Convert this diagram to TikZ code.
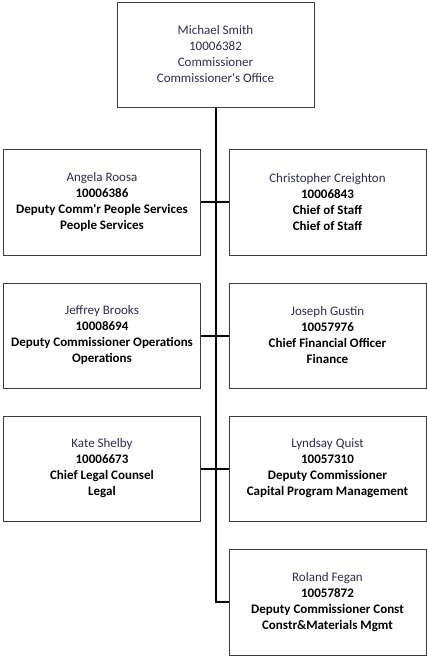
\documentclass[tikz,border=0pt]{standalone}
\usepackage{fontspec}
\setmainfont{Carlito}
\definecolor{nametext}{RGB}{45,45,80}
\definecolor{boxline}{RGB}{60,60,60}
\begin{document}
\begin{tikzpicture}[x=1pt,y=-1pt,
  emp/.style={draw=boxline,line width=1pt,fill=white,align=center,
    minimum width=197pt,minimum height=105pt,inner sep=0pt,
    font=\fontsize{13}{16}\selectfont},
  conn/.style={draw=black,line width=2pt}]
\useasboundingbox (0,0) rectangle (427,656);
\node[emp] (top) at (215.5,54.5) {\textcolor{nametext}{Michael Smith}\\\textcolor{nametext}{10006382}\\\textcolor{nametext}{Commissioner}\\\textcolor{nametext}{Commissioner\textquotesingle s Office}};
\node[emp,minimum height=106pt] (l1) at (102,202) {\textcolor{nametext}{Angela Roosa}\\\textbf{10006386}\\\textbf{Deputy Comm\textquotesingle r People Services}\\\textbf{People Services}};
\node[emp,minimum height=106pt] (r1) at (327.5,202) {\textcolor{nametext}{Christopher Creighton}\\\textbf{10006843}\\\textbf{Chief of Staff}\\\textbf{Chief of Staff}};
\node[emp] (l2) at (102,335.5) {\textcolor{nametext}{Jeffrey Brooks}\\\textbf{10008694}\\\textbf{Deputy Commissioner Operations}\\\textbf{Operations}};
\node[emp] (r2) at (327.5,335.5) {\textcolor{nametext}{Joseph Gustin}\\\textbf{10057976}\\\textbf{Chief Financial Officer}\\\textbf{Finance}};
\node[emp] (l3) at (102,468.5) {\textcolor{nametext}{Kate Shelby}\\\textbf{10006673}\\\textbf{Chief Legal Counsel}\\\textbf{Legal}};
\node[emp] (r3) at (327.5,468.5) {\textcolor{nametext}{Lyndsay Quist}\\\textbf{10057310}\\\textbf{Deputy Commissioner}\\\textbf{Capital Program Management}};
\node[emp,minimum height=106pt] (r4) at (327.5,602) {\textcolor{nametext}{Roland Fegan}\\\textbf{10057872}\\\textbf{Deputy Commissioner Const}\\\textbf{Constr\&Materials Mgmt}};
\coordinate (bend) at (top.south |- r4.west);
\draw[conn] (top.south) -- (bend) -- (r4.west);
\draw[conn] (l1.east) -- (r1.west);
\draw[conn] (l2.east) -- (r2.west);
\draw[conn] (l3.east) -- (r3.west);
\end{tikzpicture}
\end{document}
